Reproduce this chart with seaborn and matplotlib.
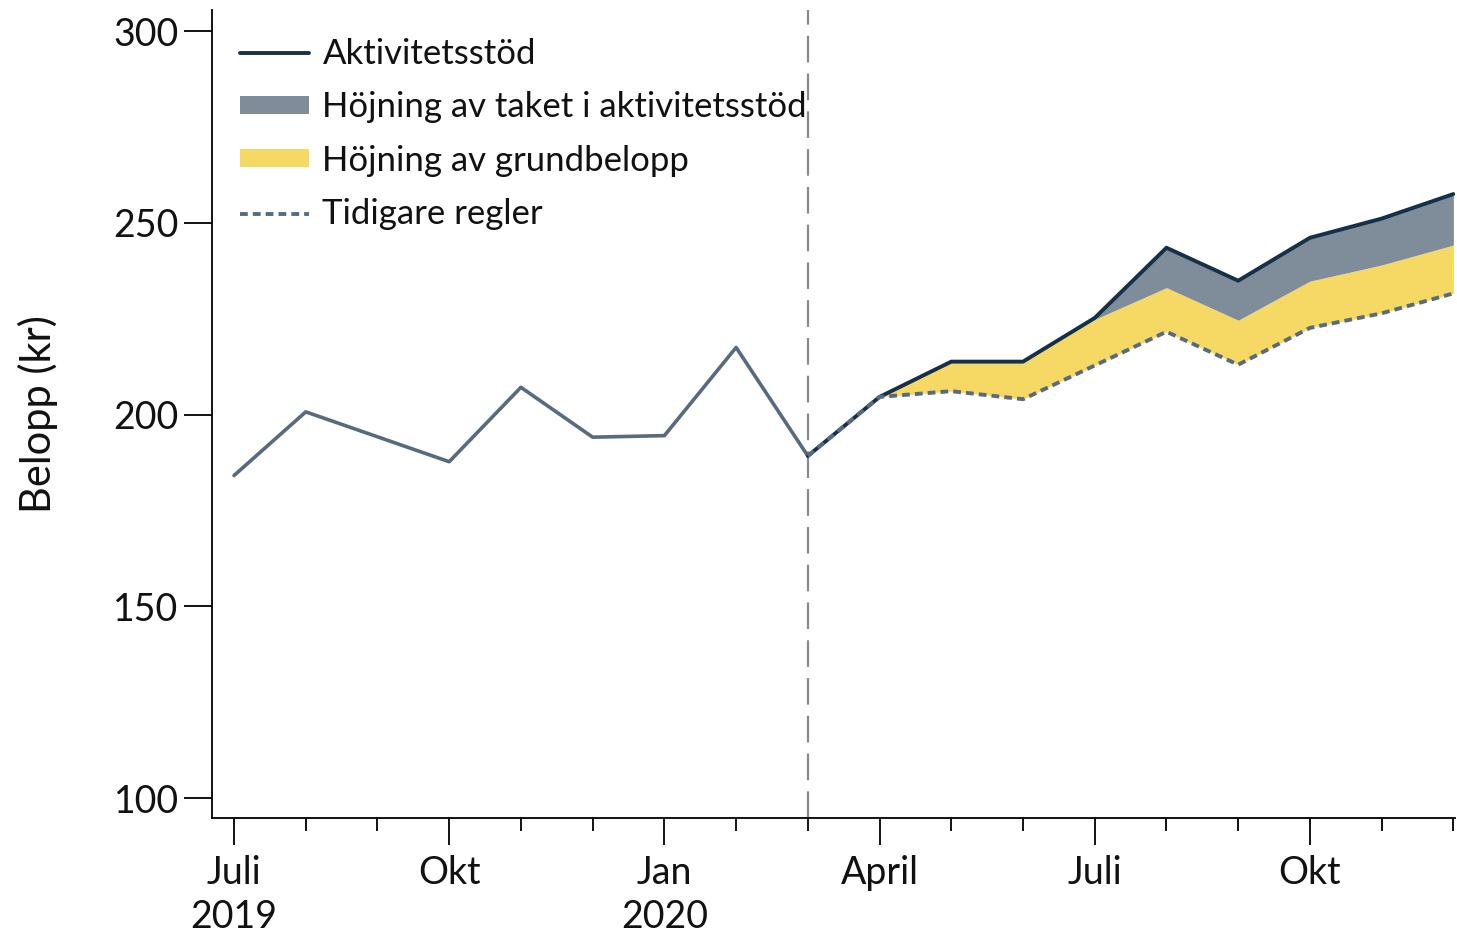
import matplotlib
matplotlib.use("Agg")
import matplotlib.pyplot as plt
import seaborn as sns
import pandas as pd
import numpy as np
from matplotlib.lines import Line2D
from matplotlib.patches import Patch

# ---- data ----
months = ["2019-07", "2019-08", "2019-09", "2019-10", "2019-11", "2019-12",
          "2020-01", "2020-02", "2020-03", "2020-04", "2020-05", "2020-06",
          "2020-07", "2020-08", "2020-09", "2020-10", "2020-11", "2020-12"]
historik = [184.1, 200.7, 194.2, 187.7, 207.1, 194.1, 194.5, 217.5, 189.2]
reform_months = months[8:]
aktivitetsstod = [189.2, 204.6, 213.8, 213.8, 225.2, 243.5, 234.9, 246.1, 251.1, 257.5]
grundbelopp = [189.2, 204.6, 213.8, 213.8, 224.8, 233.1, 224.6, 234.8, 239.0, 244.2]
tidigare = [189.2, 204.6, 206.1, 204.0, 212.8, 221.6, 213.0, 222.6, 226.4, 231.6]
major_ticks = [0, 3, 6, 9, 12, 15]
major_labels = ["Juli\n2019", "Okt", "Jan\n2020", "April", "Juli", "Okt"]
yticks = [100, 150, 200, 250, 300]

c_navy = "#14304a"
c_gray = "#7f8c99"
c_yellow = "#f5d964"
c_line = "#586b7e"

sns.set_theme(style="white")
plt.rcParams['font.family'] = ['Lato', 'DejaVu Sans']

fig = plt.figure(figsize=(14.57, 9.33), dpi=100)
ax = fig.add_axes([0.1455, 0.1233, 0.853, 0.866])

idx_all = np.arange(len(months))
df_hist = pd.DataFrame({"x": idx_all[:len(historik)], "y": historik})
idx_r = np.arange(8, 8 + len(reform_months))
df_r = pd.DataFrame({"x": idx_r, "aktiv": aktivitetsstod, "grund": grundbelopp, "tid": tidigare})

ax.fill_between(df_r["x"], df_r["tid"], df_r["grund"], color=c_yellow, lw=0, zorder=1)
ax.fill_between(df_r["x"], df_r["grund"], df_r["aktiv"], color=c_gray, lw=0, zorder=1)

sns.lineplot(data=df_hist, x="x", y="y", ax=ax, color=c_line, lw=2.6, zorder=3)
sns.lineplot(data=df_r, x="x", y="aktiv", ax=ax, color=c_navy, lw=2.8, zorder=3)
sns.lineplot(data=df_r, x="x", y="tid", ax=ax, color=c_line, lw=2.8, zorder=4,
             linestyle=(0, (2.0, 1.3)))

ax.axvline(8, color="#8a8a8a", lw=1.6, linestyle=(0, (12, 5)), zorder=2)

ax.set_xlim(-0.307, 17.02)
ax.set_ylim(94.8, 305.5)
ax.set_xticks(major_ticks)
ax.set_xticklabels(major_labels)
ax.set_xticks(idx_all, minor=True)
ax.set_yticks(yticks)

for s in ["top", "right"]:
    ax.spines[s].set_visible(False)
for s in ["left", "bottom"]:
    ax.spines[s].set_color("black")
    ax.spines[s].set_linewidth(1.3)

ax.tick_params(axis="x", which="major", direction="out", length=19.5, width=1.3,
               color="black", labelsize=27, pad=7, bottom=True, labelcolor="#111111")
ax.tick_params(axis="x", which="minor", direction="out", length=9.5, width=1.3,
               color="black", bottom=True)
ax.tick_params(axis="y", which="major", direction="out", length=20, width=1.3,
               color="black", labelsize=27, pad=4, left=True, labelcolor="#111111")
for lab in ax.get_xticklabels():
    lab.set_linespacing(1.3)

ax.set_xlabel("")
ax.set_ylabel("Belopp (kr)", fontsize=30, color="#111111", labelpad=40)
ax.grid(False)

handles = [
    Line2D([0], [0], color=c_navy, lw=2.8),
    Patch(facecolor=c_gray, edgecolor="none"),
    Patch(facecolor=c_yellow, edgecolor="none"),
    Line2D([0], [0], color=c_line, lw=2.8, linestyle=(0, (2.0, 1.3))),
]
labels = ["Aktivitetsstöd", "Höjning av taket i aktivitetsstöd",
          "Höjning av grundbelopp", "Tidigare regler"]
leg = ax.legend(handles, labels, loc="upper left", bbox_to_anchor=(0.0, 1.0),
                frameon=False, fontsize=25, handlelength=2.0, handleheight=0.42,
                labelspacing=0.62, handletextpad=0.38, borderaxespad=0.4,
                labelcolor="#111111")

fig.savefig("out.png", dpi=100)
